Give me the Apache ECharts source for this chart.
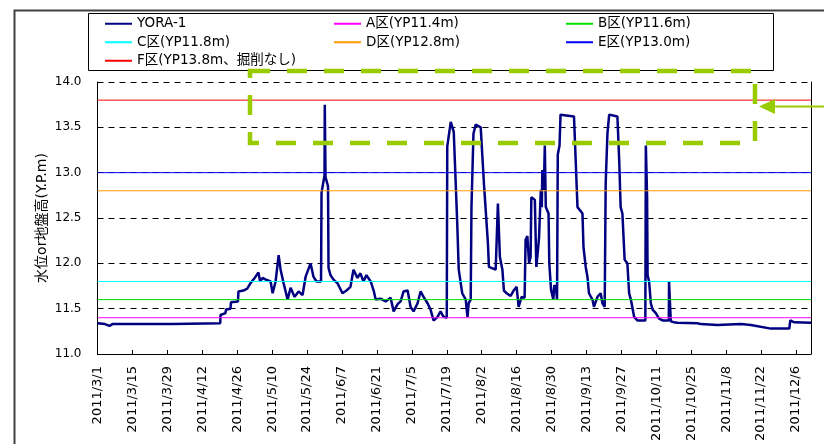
<!DOCTYPE html>
<html><head><meta charset="utf-8">
<script src="https://cdn.jsdelivr.net/npm/echarts@6/dist/echarts.min.js"></script>
<style>html,body{margin:0;padding:0;background:#fff}#c{width:824px;height:444px}</style>
</head><body><div id="c"></div>
<script>
// ---- data ----
const startYear = 2011, startMonth = 3, startDay = 1; // day 0 = 2011/3/1
const axisMaxDay = 286;
const tickStepDays = 14;
const yMin = 11.0, yMax = 14.0, yStep = 0.5;

const yoraName = 'YORA-1';
const yoraDays = [0,3,4.8,6,30,30.5,49.2,49.3,51.3,51.5,53.3,53.5,56.3,56.5,58.5,60,61.3,62,63.3,64.5,65.2,66.2,67.5,69.4,70.2,71.4,72.6,73.4,74.6,76.2,77.4,79.0,80.6,82.2,83.4,85.4,86.6,87.8,89.6,89.8,91.0,91.1,91.4,92.4,92.6,93.4,94.6,96.2,98.2,99.8,101.4,102.6,104.2,105.4,106.6,107.8,109.5,110.7,111.5,113.5,115.5,117.5,118.7,120.3,121.5,122.7,124.3,125.5,126.7,128.3,129.5,130.7,132.3,133.5,134.7,136.3,137.5,138.7,140.0,140.2,141.6,142.8,143.6,144.2,144.8,145.6,146.2,147.6,148.3,148.8,149.6,149.9,150.7,151.6,153.6,154.9,156.5,156.9,159.6,160.5,161.3,162.3,162.9,164.0,165.6,166.8,168.0,168.8,170.0,171.2,171.6,172.3,173.0,173.6,173.9,174.7,175.3,175.9,176.5,177.0,177.7,178.1,178.3,178.9,179.3,179.7,180.3,180.8,181.1,181.8,182.7,183.1,183.8,184.2,184.5,185.2,185.6,191.0,192.4,194.4,194.8,195.7,196.4,197.0,198.4,199.0,200.4,201.7,202.4,203.3,203.7,204.4,205.1,208.4,209.1,209.7,210.4,211.3,212.4,213.1,213.8,215.1,216.4,217.7,219.6,219.8,220.3,220.5,221.1,221.8,222.5,223.8,225.1,226.5,229.0,229.1,229.8,231.1,232.5,240.5,241.8,248.5,257.9,261.9,269.9,277.3,277.7,279.3,286];
const yoraValues = [11.34,11.33,11.31,11.33,11.33,11.34,11.34,11.43,11.45,11.49,11.50,11.57,11.58,11.69,11.70,11.72,11.78,11.76,11.85,11.90,11.80,11.84,11.82,11.80,11.67,11.80,12.09,11.93,11.78,11.60,11.73,11.63,11.69,11.65,11.85,12.00,11.85,11.80,11.80,12.78,12.97,13.75,12.95,12.85,11.95,11.87,11.82,11.78,11.67,11.70,11.74,11.93,11.84,11.89,11.80,11.87,11.80,11.70,11.60,11.61,11.58,11.62,11.47,11.55,11.58,11.69,11.70,11.52,11.47,11.56,11.69,11.63,11.56,11.49,11.37,11.41,11.47,11.41,11.40,13.29,13.56,13.45,13.43,12.44,11.93,11.92,11.67,11.60,11.41,11.56,11.60,12.62,13.43,13.53,13.50,12.88,12.22,11.96,11.93,12.66,12.07,11.93,11.70,11.67,11.64,11.70,11.74,11.52,11.63,11.62,12.26,12.30,12.00,12.07,12.73,12.73,12.70,11.96,12.13,12.29,12.81,12.62,13.03,12.81,13.30,12.62,12.62,12.55,12.00,11.71,11.60,11.76,11.72,11.60,13.20,13.30,13.64,13.62,12.62,12.55,12.18,11.96,11.85,11.67,11.60,11.52,11.63,11.67,11.56,11.52,12.88,13.43,13.64,13.62,13.15,12.62,12.55,12.04,12.00,11.67,11.60,11.41,11.37,11.37,11.37,13.30,12.73,11.87,11.80,11.56,11.49,11.45,11.39,11.37,11.37,11.80,11.36,11.35,11.345,11.34,11.33,11.32,11.33,11.32,11.28,11.28,11.37,11.35,11.345];

const refNames  = ['A区(YP11.4m)','B区(YP11.6m)','C区(YP11.8m)','D区(YP12.8m)','E区(YP13.0m)','F区(YP13.8m、掘削なし)'];
const refLevels = [11.4, 11.6, 11.8, 12.8, 13.0, 13.8];
const yAxisTitle = '水位or地盤高(Y.P.m)';

// ---- styles ----
const refColors = ['#FF00FF','#00E000','#00FFFF','#FF9900','#0000FF','#FF0000'];
const FONT = "'DejaVu Sans','Noto Sans CJK JP',sans-serif";

function dayToLabel(v){
  if (Math.abs(v % tickStepDays) > 1e-6) return '';
  const d = new Date(startYear, startMonth-1, startDay + Math.round(v));
  return d.getFullYear() + '/' + (d.getMonth()+1) + '/' + d.getDate();
}

const series = [{
  name: yoraName, type: 'line', symbol: 'none', z: 3,
  data: yoraDays.map((d,i)=>[d, yoraValues[i]]),
  lineStyle: {color:'#000080', width: 2.5}, itemStyle:{color:'#000080'}
}];
refNames.forEach((n,i)=>{
  series.push({
    name: n, type:'line', symbol:'none', z: 4,
    data: [[0, refLevels[i]], [axisMaxDay, refLevels[i]]],
    lineStyle:{color: refColors[i], width: 1}, itemStyle:{color: refColors[i]}
  });
});

const legendBase = {
  orient:'vertical', top: 17, itemWidth: 27, itemHeight: 14, itemGap: 5, padding: 0,
  itemStyle: {opacity: 0},
  textStyle:{fontFamily: FONT, fontSize: 13.5, color:'#000'}, selectedMode: false
};

const chart = echarts.init(document.getElementById('c'));
chart.setOption({
  animation: false,
  backgroundColor: '#fff',
  grid: {left: 97.5, right: 13, top: 82, bottom: 90, containLabel: false},
  legend: [
    Object.assign({}, legendBase, {left: 104, data: [yoraName, refNames[2], refNames[5]]}),
    Object.assign({}, legendBase, {left: 333, data: [refNames[0], refNames[3]]}),
    Object.assign({}, legendBase, {left: 565, data: [refNames[1], refNames[4]]})
  ],
  xAxis: {
    type:'value', min: 0, max: axisMaxDay, interval: tickStepDays,
    axisLine:{show:true, lineStyle:{color:'#000', width:1}},
    axisTick:{show:true, inside:true, length:4, lineStyle:{color:'#000'}},
    splitLine:{show:false},
    axisLabel:{rotate: 90, margin: 12, formatter: dayToLabel, fontFamily: FONT, fontSize: 13, color:'#000', showMaxLabel: false, hideOverlap: false}
  },
  yAxis: [{
    type:'value', min: yMin, max: yMax, interval: yStep,
    name: yAxisTitle, nameLocation:'middle', nameGap: 48, nameRotate: 90, nameMoveOverlap: false,
    nameTextStyle:{fontFamily: FONT, fontSize: 14, color:'#000'},
    axisLine:{show:true, lineStyle:{color:'#000', width:1}},
    axisTick:{show:false},
    axisLabel:{formatter: v=>v.toFixed(1), fontFamily: FONT, fontSize: 12, color:'#000', margin: 16},
    splitLine:{show:true, lineStyle:{color:'#000', width:1, type:[6,5]}}
  },{
    type:'value', min: yMin, max: yMax, interval: yStep, position:'right',
    axisLine:{show:true, lineStyle:{color:'#000', width:1}},
    axisTick:{show:false}, axisLabel:{show:false}, splitLine:{show:false}
  }],
  series: series,
  graphic: [
    {type:'polyline', z: 1, silent:true, shape:{points:[[14.5,600],[14.5,10.5],[900,10.5]]}, style:{stroke:'#404040', lineWidth:2, fill:null}},
    {type:'rect', z: 10, silent:true, shape:{x:88.5, y:13.5, width:685, height:57}, style:{stroke:'#000', lineWidth:1, fill:null}},
    {type:'rect', z: 100, silent:true, shape:{x:250, y:71, width:505, height:72}, style:{stroke:'#99CC00', lineWidth:4.5, lineDash:[20,17], fill:null}},
    {type:'line', z: 100, silent:true, shape:{x1:774, y1:106.5, x2:830, y2:106.5}, style:{stroke:'#99CC00', lineWidth:2}},
    {type:'polygon', z: 100, silent:true, shape:{points:[[759,106.5],[775,99],[775,114]]}, style:{fill:'#99CC00'}}
  ]
});
</script>
</body></html>
